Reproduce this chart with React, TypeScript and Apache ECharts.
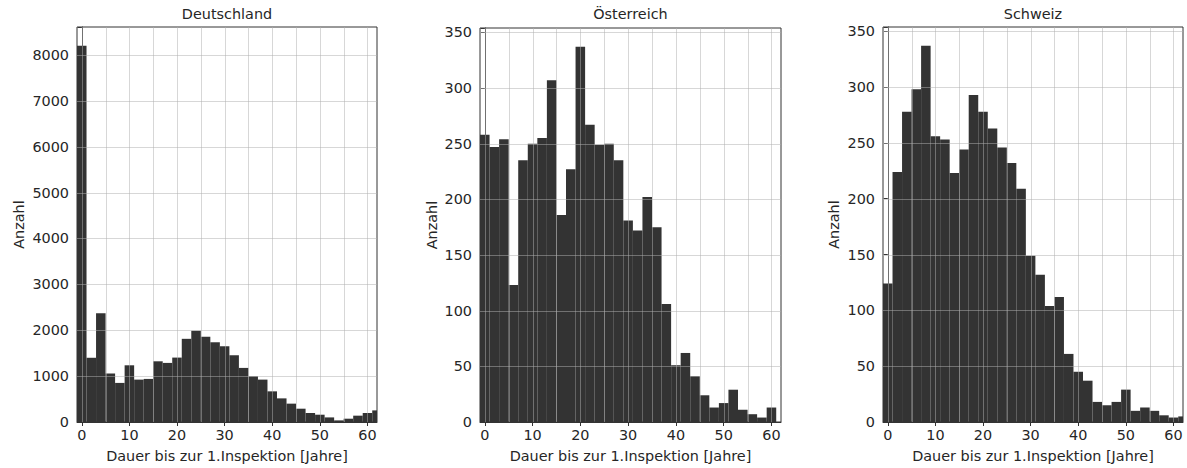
import React, { useEffect, useRef } from "react";
import * as echarts from "echarts";

// ---- data ----
const BIN_START = -1;
const BIN_WIDTH = 2;
const X_MIN = -1;
const X_MAX = 62;

const titles = ["Deutschland", "Österreich", "Schweiz"];

const deutschland = [
  8200, 1400, 2370, 1055, 852, 1236, 924, 939, 1323, 1288, 1404, 1813, 1987, 1856, 1738, 1651,
  1455, 1179, 996, 924, 668, 515, 400, 290, 196, 159, 100, 35, 72, 138, 196, 253,
];
const oesterreich = [
  258, 247, 254, 123, 235, 250, 255, 307, 186, 227, 337, 267, 249, 250, 235, 181, 172, 202, 175,
  106, 51, 62, 41, 24, 13, 17, 29, 11, 7, 4, 13,
];
const schweiz = [
  124, 224, 278, 298, 337, 256, 253, 223, 244, 293, 278, 263, 246, 232, 209, 149, 132, 104, 112,
  61, 45, 37, 18, 15, 18, 29, 10, 13, 10, 6, 4, 5,
];

const xTickLabels = [0, 10, 20, 30, 40, 50, 60];
const xGridValues = [0, 5, 10, 15, 20, 25, 30, 35, 40, 45, 50, 55, 60];
const yIntervals = [1000, 50, 50];

const xName = "Dauer bis zur 1.Inspektion [Jahre]";
const yName = "Anzahl";

const FONT = "DejaVu Sans";
const FS = 14.4;
const TEXT = "#262626";
const BAR = "#333333";
const GRIDLINE = "rgba(176,176,176,0.5)";

const grids = [
  { left: 77, top: 27, width: 300, height: 395, nameGap: 51 },
  { left: 480, top: 28, width: 301, height: 395, nameGap: 41 },
  { left: 883, top: 27, width: 300, height: 395, nameGap: 42 },
];

export default function App() {
  const ref = useRef<HTMLDivElement>(null);

  useEffect(() => {
    if (!ref.current) return;
    const chart = echarts.init(ref.current, null, { renderer: "svg" });
    const allData = [deutschland, oesterreich, schweiz];

    const xAxes: any[] = [];
    const yAxes: any[] = [];
    const series: any[] = [];
    const graphics: any[] = [];

    allData.forEach((counts, i) => {
      const g = grids[i];
      const yMax = Math.max(...counts) * 1.05;
      const yGridValues: number[] = [];
      for (let v = yIntervals[i]; v < yMax; v += yIntervals[i]) yGridValues.push(v);

      xAxes.push({
        type: "value",
        gridIndex: i,
        min: X_MIN,
        max: X_MAX,
        name: xName,
        nameLocation: "middle",
        nameGap: 27,
        nameTextStyle: { fontFamily: FONT, fontSize: FS, color: TEXT },
        axisLine: { show: true, onZero: false, lineStyle: { color: "#333", width: 1 } },
        axisTick: { show: true, length: 4, lineStyle: { color: "#333" }, customValues: xTickLabels },
        axisLabel: {
          customValues: xTickLabels,
          fontFamily: FONT,
          fontSize: FS,
          color: TEXT,
          margin: 6,
        },
        splitLine: { show: false },
      });
      yAxes.push({
        type: "value",
        gridIndex: i,
        min: 0,
        max: yMax,
        interval: yIntervals[i],
        name: yName,
        nameLocation: "middle",
        nameGap: g.nameGap,
        nameTextStyle: { fontFamily: FONT, fontSize: FS, color: TEXT },
        axisLine: { show: true, lineStyle: { color: "#333", width: 1 } },
        axisTick: { show: true, length: 4, lineStyle: { color: "#333" } },
        axisLabel: {
          fontFamily: FONT,
          fontSize: FS,
          color: TEXT,
          margin: 8,
          formatter: (v: number) => (v % yIntervals[i] === 0 ? String(v) : ""),
        },
        splitLine: { show: false },
      });

      // histogram bars
      series.push({
        type: "custom",
        xAxisIndex: i,
        yAxisIndex: i,
        z: 2,
        encode: { x: [0, 1], y: 2 },
        data: counts.map((c, k) => [BIN_START + k * BIN_WIDTH, BIN_START + (k + 1) * BIN_WIDTH, c]),
        renderItem: (params: any, api: any) => {
          const p0 = api.coord([api.value(0), api.value(2)]);
          const p1 = api.coord([api.value(1), 0]);
          const cs = params.coordSys;
          const shape = echarts.graphic.clipRectByRect(
            { x: p0[0], y: p0[1], width: p1[0] - p0[0], height: p1[1] - p0[1] },
            { x: cs.x, y: cs.y, width: cs.width, height: cs.height }
          );
          if (!shape) return null;
          return { type: "rect", shape, style: { fill: BAR } };
        },
      });

      // vertical grid lines (drawn above bars)
      series.push({
        type: "custom",
        xAxisIndex: i,
        yAxisIndex: i,
        z: 3,
        silent: true,
        encode: { x: 0, y: 1 },
        data: xGridValues.map((v) => [v, 0]),
        renderItem: (params: any, api: any) => {
          const p = api.coord([api.value(0), 0]);
          const cs = params.coordSys;
          const x = Math.round(p[0]) + 0.5;
          return {
            type: "line",
            shape: { x1: x, y1: cs.y, x2: x, y2: cs.y + cs.height },
            style: { stroke: GRIDLINE, lineWidth: 1 },
          };
        },
      });

      // horizontal grid lines (drawn above bars)
      series.push({
        type: "custom",
        xAxisIndex: i,
        yAxisIndex: i,
        z: 3,
        silent: true,
        encode: { x: 0, y: 1 },
        data: yGridValues.map((v) => [0, v]),
        renderItem: (params: any, api: any) => {
          const p = api.coord([0, api.value(1)]);
          const cs = params.coordSys;
          const y = Math.round(p[1]) + 0.5;
          return {
            type: "line",
            shape: { x1: cs.x, y1: y, x2: cs.x + cs.width, y2: y },
            style: { stroke: GRIDLINE, lineWidth: 1 },
          };
        },
      });

      graphics.push({
        type: "text",
        x: g.left + g.width / 2,
        y: 14,
        style: {
          text: titles[i],
          align: "center",
          verticalAlign: "middle",
          fontFamily: FONT,
          fontSize: FS,
          fill: TEXT,
        },
      });
    });

    chart.setOption({
      animation: false,
      backgroundColor: "#ffffff",
      grid: grids.map((g) => ({
        left: g.left,
        top: g.top,
        width: g.width,
        height: g.height,
        show: true,
        borderColor: "#333",
        borderWidth: 1,
        backgroundColor: "transparent",
        containLabel: false,
      })),
      xAxis: xAxes,
      yAxis: yAxes,
      series,
      graphic: graphics,
    });

    return () => chart.dispose();
  }, []);

  return (
    <div
      ref={ref}
      style={{ position: "absolute", left: 0, top: 0, width: 1187, height: 468, background: "#fff" }}
    />
  );
}
